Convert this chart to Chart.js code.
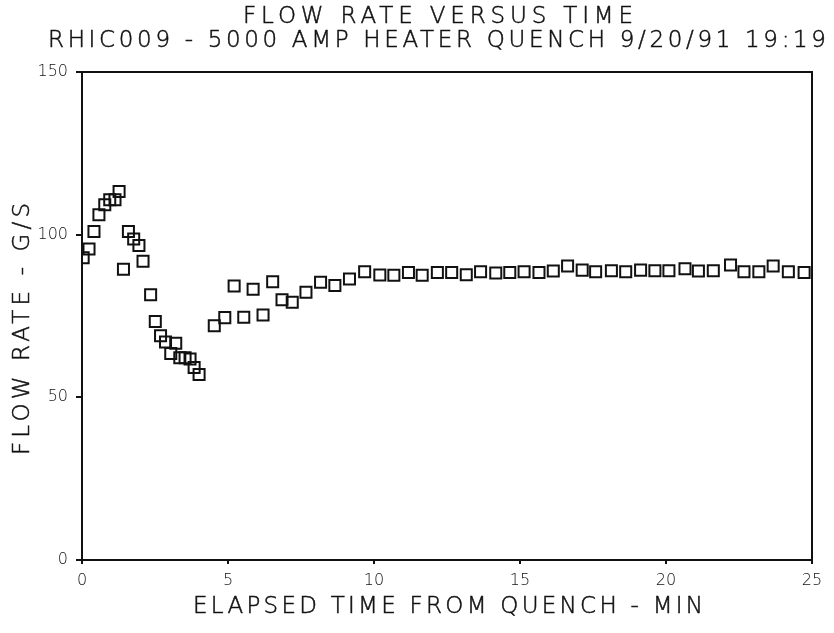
<!DOCTYPE html>
<html>
<head>
<meta charset="utf-8">
<script src="https://cdn.jsdelivr.net/npm/chart.js@4.4.1/dist/chart.umd.min.js"></script>
<style>
  html, body { margin: 0; padding: 0; background: #fff; }
  #wrap { width: 834px; height: 633px; }
</style>
</head>
<body>
<div id="wrap"><canvas id="flowChart" width="834" height="633"></canvas></div>
<script>
// elapsed time (min) and flow rate (g/s)
const times = [0.04, 0.24, 0.41, 0.58, 0.78, 0.95, 1.13, 1.27, 1.42, 1.59, 1.77, 1.95, 2.09, 2.35, 2.51, 2.69,
    2.86, 3.04, 3.21, 3.35, 3.53, 3.70, 3.84, 4.01,
    4.53, 4.89, 5.21, 5.54, 5.86, 6.20, 6.53, 6.85, 7.20, 7.67, 8.17, 8.66, 9.16, 9.68,
    10.20, 10.68, 11.18, 11.65, 12.17, 12.66, 13.16, 13.65, 14.17, 14.65, 15.14, 15.65, 16.14, 16.63,
    17.13, 17.59, 18.13, 18.62, 19.13, 19.62, 20.10, 20.65, 21.11, 21.62, 22.21, 22.67, 23.18, 23.67,
    24.19, 24.73];
const flows = [92.9, 95.6, 101.0, 106.1, 109.2, 110.7, 110.7, 113.3, 89.4, 101.0, 98.7, 96.7, 91.8, 81.5, 73.3, 68.9,
    67.0, 63.5, 66.6, 62.2, 62.2, 61.8, 59.2, 57.0,
    72.0, 74.5, 84.2, 74.6, 83.2, 75.3, 85.5, 80.0, 79.2, 82.3, 85.4, 84.4, 86.4, 88.6,
    87.6, 87.5, 88.4, 87.5, 88.4, 88.4, 87.7, 88.6, 88.2, 88.4, 88.6, 88.4, 88.8, 90.4,
    89.1, 88.6, 88.9, 88.6, 89.1, 88.9, 88.9, 89.5, 88.8, 88.9, 90.7, 88.6, 88.6, 90.4,
    88.6, 88.4];
const xTicks = [0, 5, 10, 15, 20, 25];
const yTicks = [0, 50, 100, 150];

const titleText = "FLOW RATE VERSUS TIME";
const subtitleText = "RHIC009 - 5000 AMP HEATER QUENCH 9/20/91 19:19";
const xTitleText = "ELAPSED TIME FROM QUENCH - MIN";
const yTitleText = "FLOW RATE - G/S";

const points = times.map((t, i) => ({ x: t, y: flows[i] }));

// thin lettering spread out to a given width, centred on (cx, cy)
function drawSpaced(ctx, text, cx, cy, width, size, angle) {
    ctx.save();
    ctx.font = '200 ' + size + 'px "DejaVu Sans"';
    ctx.fillStyle = "#111";
    ctx.strokeStyle = "#111";
    ctx.lineWidth = 0.5;
    ctx.textAlign = "center";
    ctx.textBaseline = "middle";
    ctx.translate(cx, cy);
    if (angle) ctx.rotate(angle);
    const w = ctx.measureText(text).width;
    if ("letterSpacing" in ctx && w < width) {
        const sp = (width - w) / (text.length - 1);
        ctx.letterSpacing = sp + "px";
        ctx.fillText(text, sp / 2, 0);
        ctx.strokeText(text, sp / 2, 0);
    } else {
        ctx.scale(width / w, 1);
        ctx.fillText(text, 0, 0);
        ctx.strokeText(text, 0, 0);
    }
    ctx.restore();
}

const framePlugin = {
    id: "frame",
    afterDraw(chart) {
        const ctx = chart.ctx;
        const a = chart.chartArea;
        ctx.save();
        ctx.strokeStyle = "#111";
        ctx.lineWidth = 2;
        ctx.strokeRect(a.left, a.top, a.right - a.left, a.bottom - a.top);
        ctx.restore();

        drawSpaced(ctx, titleText, 438, 17, 390, 23);
        drawSpaced(ctx, subtitleText, 437, 41, 778, 23);
        drawSpaced(ctx, xTitleText, 448, 607, 510, 23);
        drawSpaced(ctx, yTitleText, 23, 329, 252, 23, -Math.PI / 2);
    }
};

new Chart(document.getElementById("flowChart"), {
    type: "scatter",
    data: {
        datasets: [{
            data: points,
            pointStyle: "rect",
            pointRadius: 7.8,
            pointHoverRadius: 7.8,
            borderColor: "#111",
            backgroundColor: "rgba(0,0,0,0)",
            borderWidth: 2
        }]
    },
    options: {
        responsive: false,
        animation: false,
        layout: { padding: { top: 72, right: 22, bottom: 0, left: 0 } },
        plugins: {
            legend: { display: false },
            tooltip: { enabled: false }
        },
        scales: {
            x: {
                type: "linear",
                min: 0,
                max: 25,
                afterBuildTicks: scale => { scale.ticks = xTicks.map(v => ({ value: v })); },
                afterFit: scale => { scale.height = 73; },
                grid: { drawOnChartArea: false, drawTicks: true, tickLength: 4, color: "#111", lineWidth: 2 },
                border: { display: false },
                ticks: { color: "#111", padding: 7, maxRotation: 0,
                    font: { family: '"DejaVu Sans"', size: 16, weight: 200 } }
            },
            y: {
                type: "linear",
                min: 0,
                max: 150,
                afterBuildTicks: scale => { scale.ticks = yTicks.map(v => ({ value: v })); },
                afterFit: scale => { scale.width = 82; },
                grid: { drawOnChartArea: false, drawTicks: true, tickLength: 6, color: "#111", lineWidth: 2 },
                border: { display: false },
                ticks: { color: "#111", padding: 8,
                    font: { family: '"DejaVu Sans"', size: 16, weight: 200 } }
            }
        }
    },
    plugins: [framePlugin]
});
</script>
</body>
</html>
